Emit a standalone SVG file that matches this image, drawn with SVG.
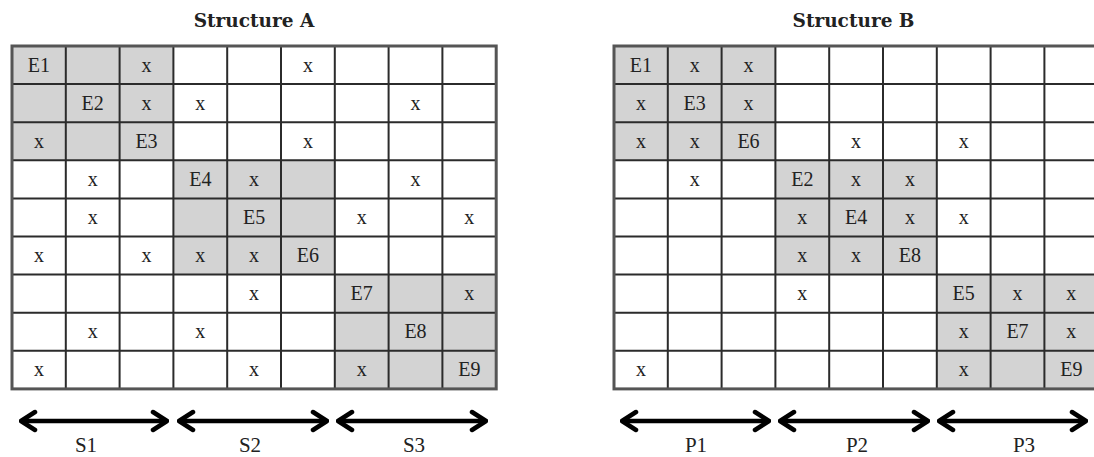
<svg xmlns="http://www.w3.org/2000/svg" width="1094" height="457" viewBox="0 0 1094 457">
<style>
.title{font-family:"DejaVu Serif","Liberation Serif",serif;font-weight:bold;font-size:18.5px;fill:#222;text-anchor:middle}
.c{font-family:"Liberation Serif","DejaVu Serif",serif;font-size:20px;fill:#222;text-anchor:middle}
.lab{font-family:"Liberation Serif","DejaVu Serif",serif;font-size:21px;fill:#222;text-anchor:middle}
.sh{fill:#d3d3d3}
.gl{stroke:#2b2b2b;stroke-width:2;fill:none}
.border{stroke:#555;stroke-width:3;fill:none}
.arr{stroke:#000;stroke-width:4.5;fill:none;marker-start:url(#chev);marker-end:url(#chev)}
</style>
<defs>
<marker id="chev" viewBox="-18 -12 20 24" refX="0" refY="0" markerWidth="20" markerHeight="24" markerUnits="userSpaceOnUse" orient="auto-start-reverse">
<path d="M-14,-9 L0,0 L-14,9" fill="none" stroke="#000" stroke-width="4.5" stroke-linejoin="round" stroke-linecap="round"/>
</marker>
<g id="gridlines">
<path class="gl" d="M12,84.1H496.2M12,122.2H496.2M12,160.3H496.2M12,198.4H496.2M12,236.5H496.2M12,274.6H496.2M12,312.7H496.2M12,350.8H496.2M65.8,46V388.9M119.6,46V388.9M173.4,46V388.9M227.2,46V388.9M281,46V388.9M334.8,46V388.9M388.6,46V388.9M442.4,46V388.9"/>
<rect class="border" x="12" y="46" width="484.2" height="342.9"/>
</g>
</defs>

<g id="structure-a">
<text class="title" x="254" y="27">Structure A</text>
<rect class="sh" x="12" y="46" width="161.4" height="114.3"/>
<rect class="sh" x="173.4" y="160.3" width="161.4" height="114.3"/>
<rect class="sh" x="334.8" y="274.6" width="161.4" height="114.3"/>
<use href="#gridlines"/>
<g class="cells">
<text class="c" x="38.9" y="72">E1</text><text class="c" x="146.5" y="72">x</text><text class="c" x="307.9" y="72">x</text>
<text class="c" x="92.7" y="110">E2</text><text class="c" x="146.5" y="110">x</text><text class="c" x="200.3" y="110">x</text><text class="c" x="415.5" y="110">x</text>
<text class="c" x="38.9" y="148">x</text><text class="c" x="146.5" y="148">E3</text><text class="c" x="307.9" y="148">x</text>
<text class="c" x="92.7" y="186">x</text><text class="c" x="200.3" y="186">E4</text><text class="c" x="254.1" y="186">x</text><text class="c" x="415.5" y="186">x</text>
<text class="c" x="92.7" y="224">x</text><text class="c" x="254.1" y="224">E5</text><text class="c" x="361.7" y="224">x</text><text class="c" x="469.3" y="224">x</text>
<text class="c" x="38.9" y="262">x</text><text class="c" x="146.5" y="262">x</text><text class="c" x="200.3" y="262">x</text><text class="c" x="254.1" y="262">x</text><text class="c" x="307.9" y="262">E6</text>
<text class="c" x="254.1" y="300">x</text><text class="c" x="361.7" y="300">E7</text><text class="c" x="469.3" y="300">x</text>
<text class="c" x="92.7" y="338">x</text><text class="c" x="200.3" y="338">x</text><text class="c" x="415.5" y="338">E8</text>
<text class="c" x="38.9" y="376">x</text><text class="c" x="254.1" y="376">x</text><text class="c" x="361.7" y="376">x</text><text class="c" x="469.3" y="376">E9</text>
</g>
</g>

<g id="structure-b">
<text class="title" x="853.5" y="27">Structure B</text>
<g transform="translate(602,0)">
<rect class="sh" x="12" y="46" width="161.4" height="114.3"/>
<rect class="sh" x="173.4" y="160.3" width="161.4" height="114.3"/>
<rect class="sh" x="334.8" y="274.6" width="161.4" height="114.3"/>
<use href="#gridlines"/>
<g class="cells">
<text class="c" x="38.9" y="72">E1</text><text class="c" x="92.7" y="72">x</text><text class="c" x="146.5" y="72">x</text>
<text class="c" x="38.9" y="110">x</text><text class="c" x="92.7" y="110">E3</text><text class="c" x="146.5" y="110">x</text>
<text class="c" x="38.9" y="148">x</text><text class="c" x="92.7" y="148">x</text><text class="c" x="146.5" y="148">E6</text><text class="c" x="254.1" y="148">x</text><text class="c" x="361.7" y="148">x</text>
<text class="c" x="92.7" y="186">x</text><text class="c" x="200.3" y="186">E2</text><text class="c" x="254.1" y="186">x</text><text class="c" x="307.9" y="186">x</text>
<text class="c" x="200.3" y="224">x</text><text class="c" x="254.1" y="224">E4</text><text class="c" x="307.9" y="224">x</text><text class="c" x="361.7" y="224">x</text>
<text class="c" x="200.3" y="262">x</text><text class="c" x="254.1" y="262">x</text><text class="c" x="307.9" y="262">E8</text>
<text class="c" x="200.3" y="300">x</text><text class="c" x="361.7" y="300">E5</text><text class="c" x="415.5" y="300">x</text><text class="c" x="469.3" y="300">x</text>
<text class="c" x="361.7" y="338">x</text><text class="c" x="415.5" y="338">E7</text><text class="c" x="469.3" y="338">x</text>
<text class="c" x="38.9" y="376">x</text><text class="c" x="361.7" y="376">x</text><text class="c" x="469.3" y="376">E9</text>
</g>
</g>
</g>

<g id="connectors">
<path class="arr" d="M21,421H167"/>
<path class="arr" d="M179,421H327"/>
<path class="arr" d="M338,421H486"/>
<path class="arr" d="M622,421H769"/>
<path class="arr" d="M780,421H928"/>
<path class="arr" d="M939,421H1086"/>
</g>

<g id="labels">
<text class="lab" x="86" y="452">S1</text>
<text class="lab" x="250" y="452">S2</text>
<text class="lab" x="414" y="452">S3</text>
<text class="lab" x="696" y="452">P1</text>
<text class="lab" x="857" y="452">P2</text>
<text class="lab" x="1024" y="452">P3</text>
</g>
</svg>
